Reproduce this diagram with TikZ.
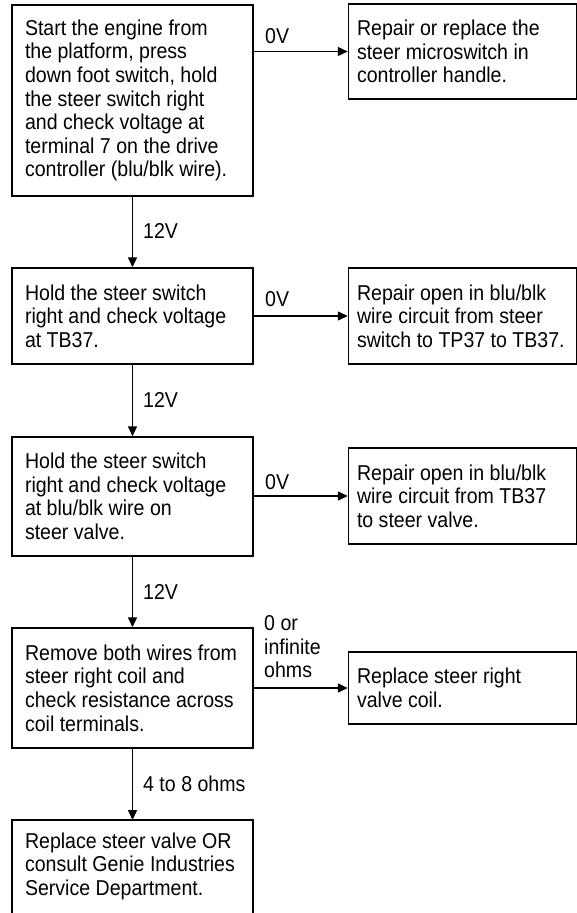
\documentclass[tikz,border=0pt]{standalone}
\usepackage{fontspec}
\setmainfont{Liberation Sans}[FakeStretch=0.91]
\usetikzlibrary{arrows.meta}
\begin{document}
\begin{tikzpicture}[x=1pt,y=1pt,
  every node/.style={font=\fontsize{21.5}{23.6}\selectfont},
  lbox/.style={draw,line width=1.5pt,rectangle,text width=215pt,inner xsep=13pt,inner ysep=2pt,align=flush left},
  rbox/.style={draw,line width=1.5pt,rectangle,text width=211pt,inner xsep=8.5pt,inner ysep=2pt,align=flush left},
  lbl/.style={inner sep=0pt,align=left},
  arr/.style={line width=1.5pt,-{Triangle[length=10pt,width=9pt]}}]
\fill[white] (0,0) rectangle (577,-913);
\useasboundingbox (0,0) rectangle (577,-913);

% left column
\node[lbox,minimum height=191pt] (B1) at (132.5,-100.5) {Start the engine from\\the platform, press\\down foot switch, hold\\the steer switch right\\and check voltage at\\terminal 7 on the drive\\controller (blu/blk wire).};
\node[lbox,minimum height=96pt] (B2) at (132.5,-316) {Hold the steer switch\\right and check voltage\\at TB37.};
\node[lbox,minimum height=119pt] (B3) at (132.5,-496.5) {Hold the steer switch\\right and check voltage\\at blu/blk wire on\\steer valve.};
\node[lbox,minimum height=120pt] (B4) at (132.5,-688) {Remove both wires from\\steer right coil and\\check resistance across\\coil terminals.};
\node[text width=215pt,inner xsep=13pt,inner ysep=12.5pt,align=flush left,anchor=north] (B5) at (132.5,-820) {Replace steer valve OR\\consult Genie Industries\\Service Department.};
\draw[line width=1.5pt] (B5.north west) ++(0,-200) -- (B5.north west) -- (B5.north east) -- ++(0,-200);

% right column
\node[rbox,minimum height=95pt] (R1) at (462.5,-51.5) {Repair or replace the\\steer microswitch in\\controller handle.};
\node[rbox,minimum height=96pt] (R2) at (462.5,-316) {Repair open in blu/blk\\wire circuit from steer\\switch to TP37 to TB37.};
\node[rbox,minimum height=96pt] (R3) at (462.5,-496) {Repair open in blu/blk\\wire circuit from TB37\\to steer valve.};
\node[rbox,minimum height=72pt] (R4) at (462.5,-688) {Replace steer right\\valve coil.};

% vertical connectors
\draw[arr] (B1.south) -- (B2.north);
\draw[arr] (B2.south) -- (B3.north);
\draw[arr] (B3.south) -- (B4.north);
\draw[arr] (B4.south) -- (B5.north);

% horizontal connectors
\draw[arr] (R1.west -| B1.east) -- (R1.west);
\draw[arr] (R2.west -| B2.east) -- (R2.west);
\draw[arr] (R3.west -| B3.east) -- (R3.west);
\draw[arr] (R4.west -| B4.east) -- (R4.west);

% labels
\node[lbl,anchor=base west] (L1) at (265,-43) {0V};
\node[lbl,anchor=base west] (L2) at (265,-306) {0V};
\node[lbl,anchor=base west] (L3) at (265,-489) {0V};
\node[lbl,anchor=north west] (L4) at (264,-615.5) {0 or\\infinite\\ohms};
\node[lbl,anchor=west] (V1) at (143,-231) {12V};
\node[lbl,anchor=west] (V2) at (143,-400) {12V};
\node[lbl,anchor=west] (V3) at (143,-592) {12V};
\node[lbl,anchor=west] (V4) at (143,-784) {4 to 8 ohms};
\end{tikzpicture}
\end{document}
